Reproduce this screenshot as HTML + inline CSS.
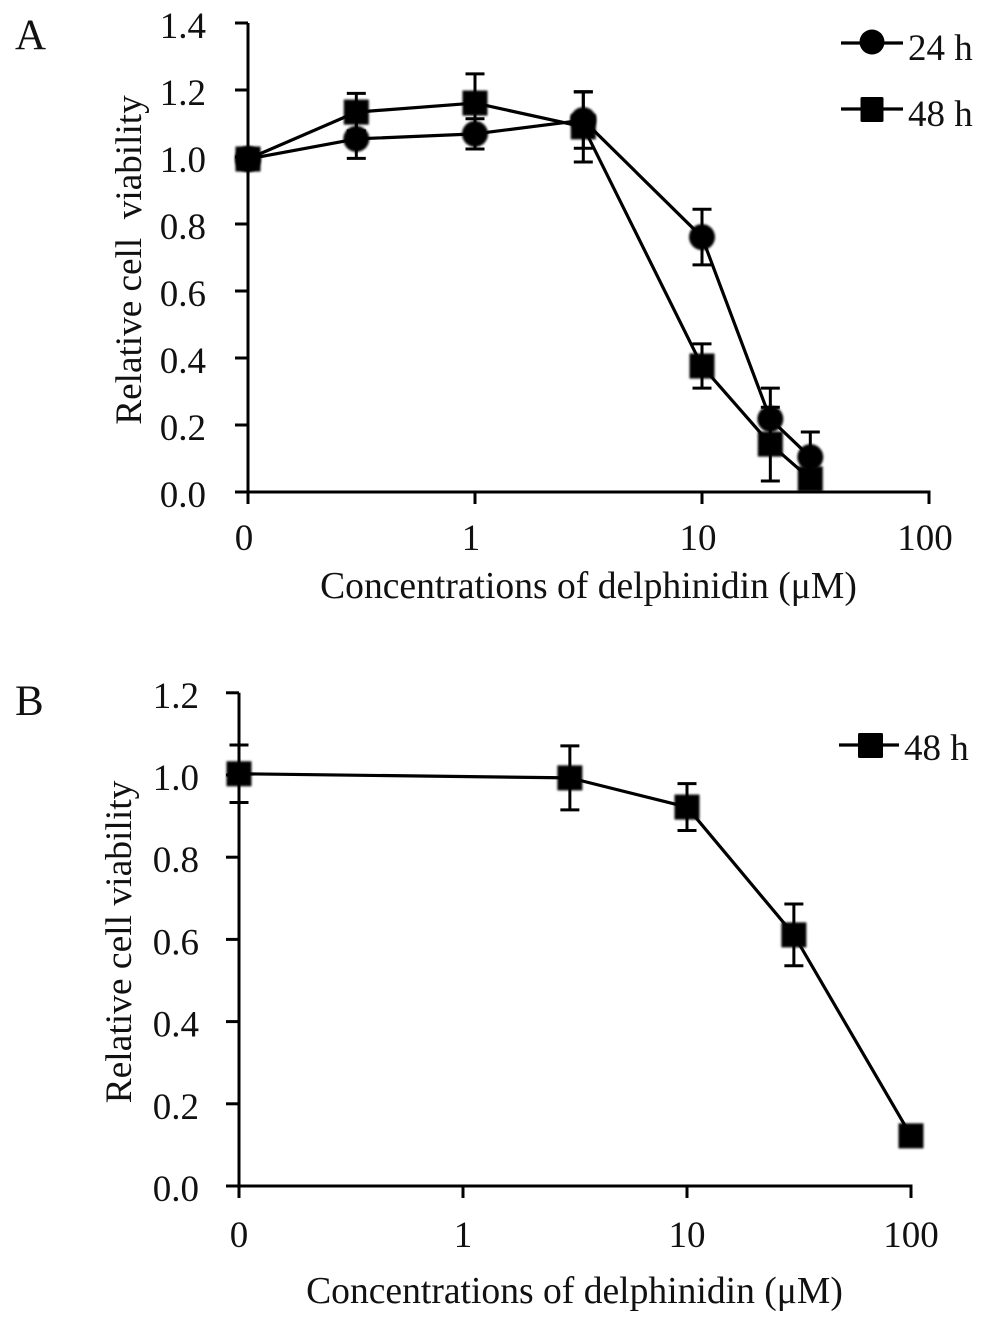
<!DOCTYPE html>
<html lang="en">
<head>
<meta charset="utf-8">
<title>Relative cell viability vs delphinidin concentration</title>
<style>
html,body{margin:0;padding:0;background:#fff;}
svg{display:block;}
text{font-family:"Liberation Serif",serif;fill:#111;white-space:pre;}
</style>
</head>
<body>
<svg id="figure" xmlns="http://www.w3.org/2000/svg" width="1006" height="1320" viewBox="0 0 1006 1320">
  <defs>
    <filter id="soft" x="-20%" y="-20%" width="140%" height="140%"><feGaussianBlur stdDeviation="1"/></filter>
  </defs>
  <rect width="1006" height="1320" fill="#fff"/>
  <text x="15" y="49" font-size="43">A</text>
  <text x="15" y="715" font-size="43">B</text>
  <text font-size="37.2" text-anchor="middle" transform="translate(141 260) rotate(-90)">Relative cell  viability</text>
  <text x="588.5" y="598" font-size="37.6" text-anchor="middle">Concentrations of delphinidin (μM)</text>
  <text font-size="37.5" text-anchor="middle" transform="translate(131 942) rotate(-90)">Relative cell viability</text>
  <text x="574.5" y="1303" font-size="37.6" text-anchor="middle">Concentrations of delphinidin (μM)</text>
  <g>
    <line x1="841" x2="903" y1="43" y2="43" stroke="#000" stroke-width="3.2"/>
    <circle cx="872" cy="42" r="12.5" fill="#000"/>
    <text x="908" y="60" font-size="37">24 h</text>
    <line x1="841" x2="903" y1="109" y2="109" stroke="#000" stroke-width="3.2"/>
    <rect x="860.5" y="97" width="23" height="25" rx="1.5" fill="#000"/>
    <text x="908" y="126" font-size="37">48 h</text>
  </g>
  <g>
    <line x1="839" x2="899" y1="745" y2="745" stroke="#000" stroke-width="3.2"/>
    <rect x="858" y="733" width="25" height="25" rx="1.5" fill="#000"/>
    <text x="904" y="760" font-size="37">48 h</text>
  </g>
  <g id="panelA"></g>
  <g id="panelB"></g>
</svg>
<script>
const xTickValues = [0.1, 1, 10, 100];
const xTickLabels = ["0", "1", "10", "100"];

const yTicksA = [0, 0.2, 0.4, 0.6, 0.8, 1.0, 1.2, 1.4];
const yTicksB = [0, 0.2, 0.4, 0.6, 0.8, 1.0, 1.2];

const concentrationsA = [0.1, 0.3, 1, 3, 10, 20, 30];
const viability24h = [0.994, 1.054, 1.069, 1.11, 0.761, 0.218, 0.104];
const error24h = [0.01, 0.058, 0.045, 0.084, 0.083, 0.092, 0.075];
const viability48h = [0.994, 1.134, 1.161, 1.09, 0.376, 0.143, 0.039];
const error48h = [0.01, 0.056, 0.087, 0.105, 0.066, 0.11, 0.02];

const concentrationsB = [0.1, 3, 10, 30, 100];
const viabilityB48h = [1.003, 0.993, 0.922, 0.611, 0.122];
const errorB48h = [0.07, 0.078, 0.057, 0.075, 0.01];

const SVG_NS = "http://www.w3.org/2000/svg";

function svgEl(tag, parent, props) {
  const el = document.createElementNS(SVG_NS, tag);
  for (const key in props) el.setAttribute(key, props[key]);
  parent.appendChild(el);
  return el;
}

function drawAxes(group, panel, X, Y, yTicks, yMax, g) {
  const yAxis = svgEl("line", group, {x1: g.x0, x2: g.x0, y1: Y(yMax), y2: Y(0), stroke: "#000", "stroke-width": 3});
  
  
  const xAxis = svgEl("line", group, {x1: g.x0, x2: X(100) + 1.5, y1: Y(0), y2: Y(0), stroke: "#000", "stroke-width": 3});
  
  

  yTicks.forEach(function (v) {
    const tick = svgEl("line", group, {x1: g.x0 - 13, x2: g.x0, y1: Y(v), y2: Y(v), stroke: "#000", "stroke-width": 3});
    
    
    const label = svgEl("text", group, {x: g.yLabelX, y: Y(v) + g.yLabelDy, "font-size": 37, "text-anchor": "end"});
    label.textContent = v.toFixed(1);
    
    
  });

  xTickValues.forEach(function (v, i) {
    const tick = svgEl("line", group, {x1: X(v), x2: X(v), y1: Y(0), y2: Y(0) + 12, stroke: "#000", "stroke-width": 3});
    
    
    const label = svgEl("text", group, {x: X(v) - g.xLabelShift, y: g.xLabelY, "font-size": 37, "text-anchor": "middle"});
    label.textContent = xTickLabels[i];
    
    
  });
}

function drawErrors(group, X, Y, xs, ys, errs) {
  xs.forEach(function (x, i) {
    const hi = Y(ys[i] + errs[i]);
    const lo = Y(ys[i] - errs[i]);
    const px = X(x);
    const stem = svgEl("line", group, {x1: px, x2: px, y1: hi, y2: lo, stroke: "#000", "stroke-width": 3});
    
    
    const capTop = svgEl("line", group, {x1: px - 9.5, x2: px + 9.5, y1: hi, y2: hi, stroke: "#000", "stroke-width": 3});
    
    
    const capBottom = svgEl("line", group, {x1: px - 9.5, x2: px + 9.5, y1: lo, y2: lo, stroke: "#000", "stroke-width": 3});
    
    
  });
}

function drawLine(group, X, Y, xs, ys, name) {
  const pts = xs.map(function (x, i) { return X(x) + "," + Y(ys[i]); }).join(" ");
  const line = svgEl("polyline", group, {points: pts, fill: "none", stroke: "#000", "stroke-width": 3.2, "stroke-linejoin": "round"});
  
  
}

function drawMarkers(group, X, Y, xs, ys, shape, name) {
  xs.forEach(function (x, i) {
    const px = X(x);
    const py = Y(ys[i]);
    let mark;
    if (shape === "circle") {
      mark = svgEl("circle", group, {cx: px, cy: py, r: 13, fill: "#000", filter: "url(#soft)"});
    } else {
      mark = svgEl("rect", group, {x: px - 12.5, y: py - 12.5, width: 25, height: 25, fill: "#000", filter: "url(#soft)"});
    }
    
    
  });
}

/* Panel A */
const groupA = document.getElementById("panelA");
const xA = function (c) { return 248 + 227 * Math.log10(c / 0.1); };
const yA = function (v) { return 492 - 335 * v; };
drawAxes(groupA, "a", xA, yA, yTicksA, 1.4, {x0: 248, yLabelX: 206, yLabelDy: 15, xLabelShift: 4, xLabelY: 550});
drawErrors(groupA, xA, yA, concentrationsA, viability24h, error24h);
drawErrors(groupA, xA, yA, concentrationsA, viability48h, error48h);
drawLine(groupA, xA, yA, concentrationsA, viability24h, "line-24h");
drawLine(groupA, xA, yA, concentrationsA, viability48h, "line-48h");
drawMarkers(groupA, xA, yA, concentrationsA, viability24h, "circle", "point-24h");
drawMarkers(groupA, xA, yA, concentrationsA, viability48h, "square", "point-48h");

/* Panel B */
const groupB = document.getElementById("panelB");
const xB = function (c) { return 239 + 224 * Math.log10(c / 0.1); };
const yB = function (v) { return 1186 - 411 * v; };
drawAxes(groupB, "b", xB, yB, yTicksB, 1.2, {x0: 239, yLabelX: 199, yLabelDy: 15, xLabelShift: 0, xLabelY: 1247});
drawErrors(groupB, xB, yB, concentrationsB, viabilityB48h, errorB48h);
drawLine(groupB, xB, yB, concentrationsB, viabilityB48h, "line-b-48h");
drawMarkers(groupB, xB, yB, concentrationsB, viabilityB48h, "square", "point-b-48h");
</script>
</body>
</html>
